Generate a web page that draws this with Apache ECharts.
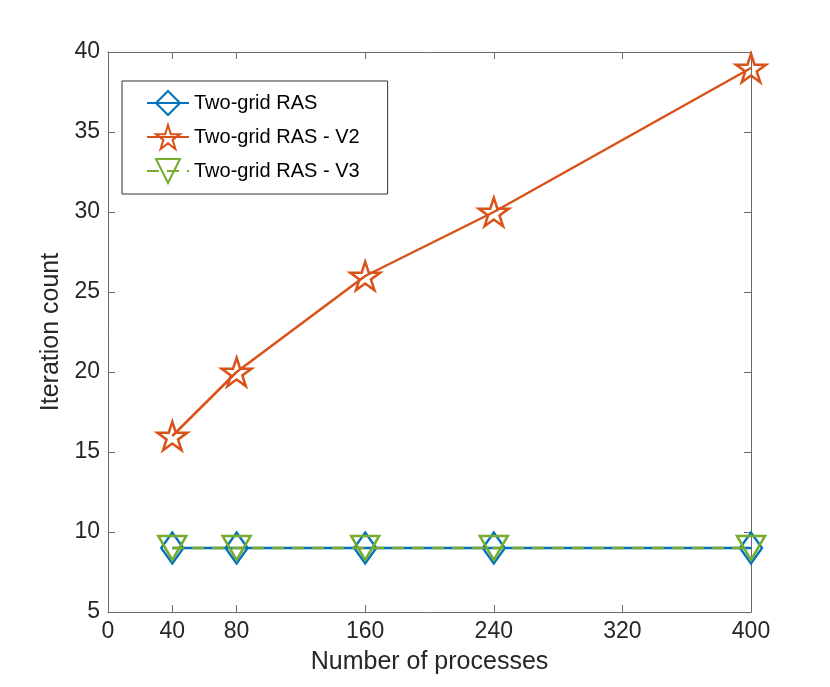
<!DOCTYPE html>
<html>
<head>
<meta charset="utf-8">
<script src="https://cdn.jsdelivr.net/npm/echarts@6/dist/echarts.min.js"></script>
<style>
  html, body { margin: 0; padding: 0; background: #fff; }
  #chart { width: 830px; height: 687px; }
</style>
</head>
<body>
<div id="chart"></div>
<script>
// processes on the x axis
var processes = [40, 80, 160, 240, 400];
var xTicks = [0, 40, 80, 160, 240, 320, 400];

// iteration counts per method
var rasBase = [9, 9, 9, 9, 9];
var rasV2 = [16, 20, 26, 30, 39];
var rasV3 = [9, 9, 9, 9, 9];

var seriesNames = ['Two-grid RAS', 'Two-grid RAS - V2', 'Two-grid RAS - V3'];

var FONT = '"Liberation Sans", Arial, Helvetica, sans-serif';
var TXT = '#262626';
var AXC = '#6a6a6a';

var starPath = 'path://M50,0 L61.23,34.55 L97.55,34.55 L68.17,55.9 L79.39,90.45 L50,69.1 L20.61,90.45 L31.83,55.9 L2.45,34.55 L38.77,34.55 Z';

function pairs(ys) {
    return processes.map(function (x, i) { return [x, ys[i]]; });
}

var chart = echarts.init(document.getElementById('chart'));

// box look: axis lines on all four sides, ticks pointing in
var lineSt = { show: true, onZero: false, lineStyle: { color: AXC, width: 1 } };
var tickSt = { show: true, inside: true, length: 7, lineStyle: { color: AXC, width: 1 } };

var option = {
    animation: false,
    backgroundColor: '#fff',
    textStyle: { fontFamily: FONT, color: TXT },
    grid: { left: 108, right: 79, top: 52, bottom: 75, containLabel: false },
    legend: {
        orient: 'vertical',
        left: 122,
        top: 81,
        data: seriesNames,
        itemWidth: 42,
        itemHeight: 30,
        itemGap: 4,
        padding: [7, 28, 8, 24],
        borderColor: '#333',
        borderWidth: 1,
        backgroundColor: '#fff',
        textStyle: { fontFamily: FONT, fontSize: 20, color: '#000', lineHeight: 30 }
    },
    xAxis: [
        {
            type: 'value',
            min: 0,
            max: 400,
            name: 'Number of processes',
            nameLocation: 'middle',
            nameGap: 38,
            nameTextStyle: { fontFamily: FONT, fontSize: 25, color: TXT },
            axisLine: lineSt,
            axisTick: Object.assign({ customValues: xTicks }, tickSt),
            axisLabel: { fontFamily: FONT, fontSize: 23, color: TXT, margin: 8, customValues: xTicks },
            splitLine: { show: false }
        },
        {
            type: 'value',
            position: 'top',
            min: 0,
            max: 400,
            axisLine: lineSt,
            axisTick: Object.assign({ customValues: xTicks }, tickSt),
            axisLabel: { show: false },
            splitLine: { show: false }
        }
    ],
    yAxis: [
        {
            type: 'value',
            min: 5,
            max: 40,
            interval: 5,
            name: 'Iteration count',
            nameLocation: 'middle',
            nameGap: 40,
            nameTextStyle: { fontFamily: FONT, fontSize: 25, color: TXT },
            axisLine: lineSt,
            axisTick: tickSt,
            axisLabel: { fontFamily: FONT, fontSize: 23, color: TXT, margin: 8 },
            splitLine: { show: false }
        },
        {
            type: 'value',
            position: 'right',
            min: 5,
            max: 40,
            interval: 5,
            axisLine: lineSt,
            axisTick: tickSt,
            axisLabel: { show: false },
            splitLine: { show: false }
        }
    ],
    series: [
        {
            name: seriesNames[0],
            type: 'line',
            data: pairs(rasBase),
            symbol: 'diamond',
            symbolSize: [22, 31],
            lineStyle: { color: '#0072BD', width: 2.5 },
            itemStyle: { color: 'rgba(0,0,0,0)', borderColor: '#0072BD', borderWidth: 2.5 },
            z: 2
        },
        {
            name: seriesNames[1],
            type: 'line',
            data: pairs(rasV2),
            symbol: starPath,
            symbolSize: 30,
            symbolKeepAspect: true,
            lineStyle: { color: '#D95319', width: 2.5 },
            itemStyle: { color: 'rgba(0,0,0,0)', borderColor: '#D95319', borderWidth: 2.5 },
            z: 3
        },
        {
            name: seriesNames[2],
            type: 'line',
            data: pairs(rasV3),
            symbol: 'triangle',
            symbolRotate: 180,
            symbolSize: [28, 24],
            lineStyle: { color: '#77AC30', width: 2.5, type: [12, 8] },
            itemStyle: { color: 'rgba(0,0,0,0)', borderColor: '#77AC30', borderWidth: 2.5 },
            z: 4
        }
    ]
};

chart.setOption(option);
</script>
</body>
</html>
